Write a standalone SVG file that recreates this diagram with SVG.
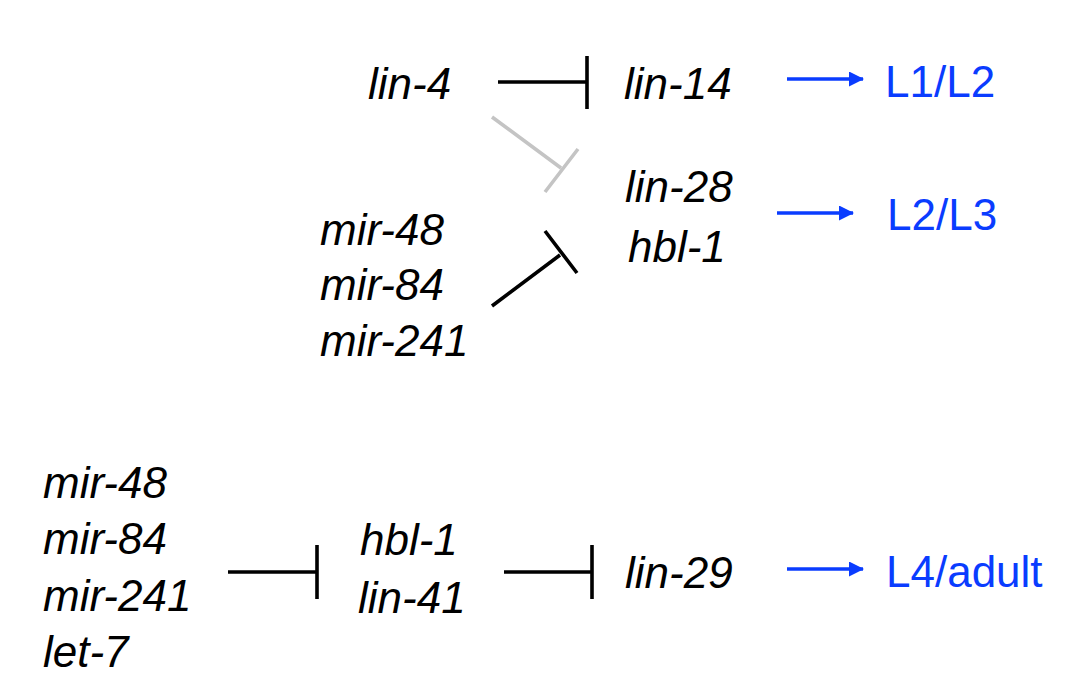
<svg xmlns="http://www.w3.org/2000/svg" width="1068" height="690" viewBox="0 0 1068 690">
<style>
.g{font-family:"Liberation Sans",Arial,sans-serif;font-style:italic;font-size:44px;fill:#000}
.s{font-family:"Liberation Sans",Arial,sans-serif;font-size:44px;fill:#0a3cff}
.inh{stroke:#000;stroke-width:3.6;fill:none}
.inhg{stroke:#c4c4c4;stroke-width:3.6;fill:none}
.act{stroke:#0a3cff;stroke-width:3.4;fill:none}
</style>
<defs>
<marker id="ah" markerUnits="userSpaceOnUse" markerWidth="16" markerHeight="16" refX="14" refY="7.5" orient="auto" viewBox="0 0 16 16">
<path d="M0,0 L15,7.5 L0,15 Z" fill="#0a3cff"/>
</marker>
</defs>
<rect width="1068" height="690" fill="#fff"/>
<g id="lin-4"><text class="g" x="368" y="99">lin-4</text></g>
<g id="lin-14"><text class="g" x="624" y="99">lin-14</text></g>
<g id="L1L2"><text class="s" x="885" y="97">L1/L2</text></g>
<g id="lin-28-hbl-1"><text class="g" x="625" y="202">lin-28</text><text class="g" x="628" y="262">hbl-1</text></g>
<g id="L2L3"><text class="s" x="887" y="230">L2/L3</text></g>
<g id="mirs-top"><text class="g" x="320" y="245">mir-48</text><text class="g" x="320" y="300">mir-84</text><text class="g" x="320" y="356">mir-241</text></g>
<g id="mirs-bottom"><text class="g" x="43" y="498">mir-48</text><text class="g" x="43" y="554">mir-84</text><text class="g" x="43" y="611">mir-241</text><text class="g" x="43" y="667">let-7</text></g>
<g id="hbl-1-lin-41"><text class="g" x="360" y="555">hbl-1</text><text class="g" x="358" y="613">lin-41</text></g>
<g id="lin-29"><text class="g" x="625" y="588">lin-29</text></g>
<g id="L4adult"><text class="s" x="886" y="587">L4/adult</text></g>
<g id="connectors">
<path class="inh" d="M498,82 H587 M587,56 V109"/>
<path class="inhg" d="M492,117 L561,168 M578,149 L545,192"/>
<path class="inh" d="M492,306 L560,255 M545,231 L577,273"/>
<path class="inh" d="M228,572 H317 M317,545 V599"/>
<path class="inh" d="M504,572 H592 M592,545 V599"/>
<line class="act" x1="787" y1="79" x2="863" y2="79" marker-end="url(#ah)"/>
<line class="act" x1="777" y1="213" x2="853" y2="213" marker-end="url(#ah)"/>
<line class="act" x1="787" y1="569" x2="863" y2="569" marker-end="url(#ah)"/>
</g>
</svg>
